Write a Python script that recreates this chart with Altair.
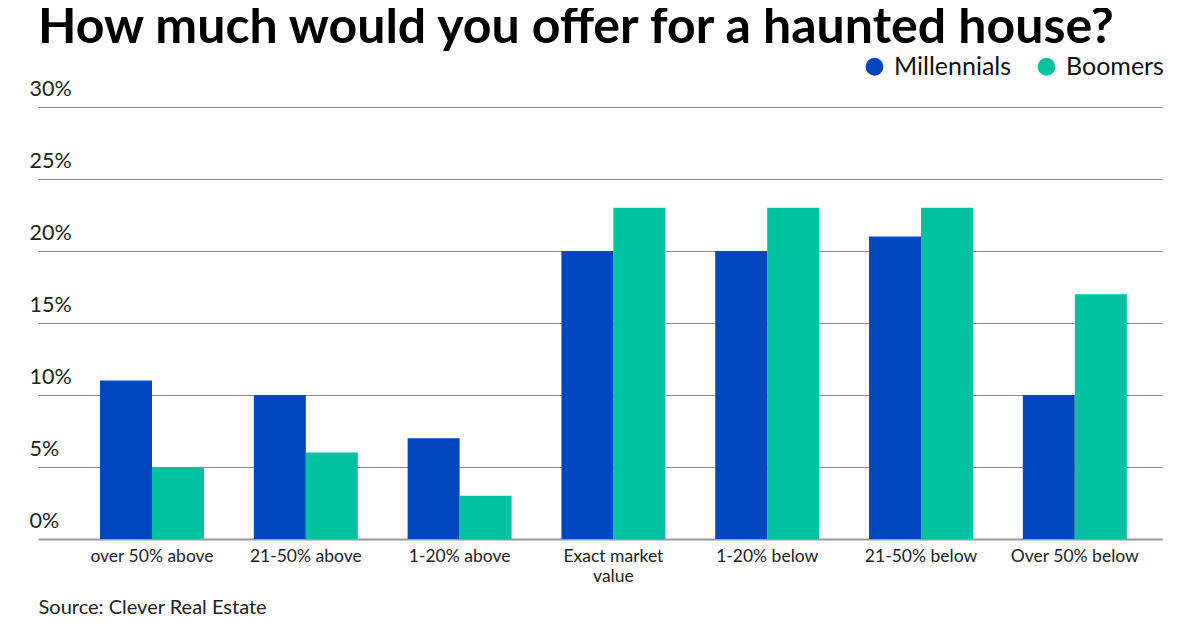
import altair as alt
import pandas as pd

categories = ["over 50% above", "21-50% above", "1-20% above", "Exact market value",
              "1-20% below", "21-50% below", "Over 50% below"]
series = ["Millennials", "Boomers"]
millennials = [11, 10, 7, 20, 20, 21, 10]
boomers = [5, 6, 3, 23, 23, 23, 17]
colors = ["#0046BE", "#00C2A0"]
y_ticks = [0, 5, 10, 15, 20, 25, 30]

rows = []
for c, m, b in zip(categories, millennials, boomers):
    rows.append({"category": c, "group": "Millennials", "value": m})
    rows.append({"category": c, "group": "Boomers", "value": b})
df = pd.DataFrame(rows)

FONT = "Lato"

bars = alt.Chart(df).mark_bar(size=52).encode(
    x=alt.X("category:N", sort=categories,
            scale=alt.Scale(paddingInner=0.324, paddingOuter=0.316, align=0.638),
            axis=alt.Axis(title="Source: Clever Real Estate", titleAnchor="start",
                          titleAlign="left", titleX=0, titleY=74, titleBaseline="alphabetic",
                          titleFont=FONT, titleFontSize=20, titleFontWeight="normal",
                          titleColor="#222222",
                          labelAngle=0, labelFont=FONT, labelFontSize=17.5, labelColor="#222222",
                          labelPadding=8, ticks=False, domain=True, domainColor="#999999",
                          domainWidth=2, labelLineHeight=20,
                          labelExpr="datum.label == 'Exact market value' ? ['Exact market', 'value'] : datum.label")),
    xOffset=alt.XOffset("group:N", sort=series),
    y=alt.Y("value:Q", scale=alt.Scale(domain=[0, 30]),
            axis=alt.Axis(title=None, values=y_ticks, labelExpr="datum.value + '%'",
                          labelAlign="left", labelBaseline="alphabetic", labelPadding=9,
                          labelOffset=-12, labelFont=FONT, labelFontSize=21.5,
                          labelColor="#222222", ticks=False, domain=False,
                          grid=True, gridColor="#888888", gridWidth=1)),
    color=alt.Color("group:N", sort=series,
                    scale=alt.Scale(domain=series, range=colors),
                    legend=alt.Legend(title=None, orient="none", direction="horizontal",
                                      legendX=824, legendY=-53, symbolType="circle",
                                      symbolSize=320, labelFont=FONT, labelFontSize=25,
                                      labelColor="#111111", labelOffset=7,
                                      columnPadding=22, padding=0, symbolStrokeWidth=0)),
)

chart = bars.properties(
    width=1124, height=432,
    autosize=alt.AutoSizeParams(type="none"),
    padding={"left": 30, "top": 99, "right": 30, "bottom": 88},
    title=alt.TitleParams("How much would you offer for a haunted house?",
                          anchor="start", frame="group", font=FONT, fontSize=50,
                          fontWeight="bold", color="#000000", offset=0, dy=-1),
).configure_view(stroke=None)

chart.save("out.html", embed_options={"renderer": "svg", "actions": False})
